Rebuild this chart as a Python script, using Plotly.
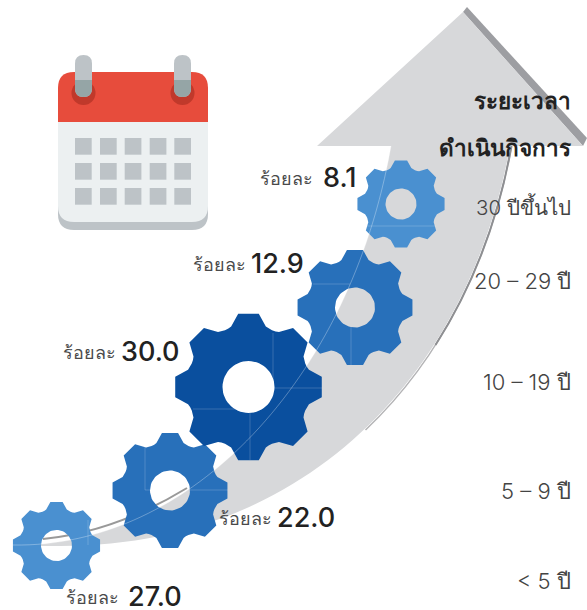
import numpy as np
import plotly.graph_objects as go

# business age groups and their share (percent), bottom gear to top gear
categories = ["< 5 ปี", "5 – 9 ปี", "10 – 19 ปี", "20 – 29 ปี", "30 ปีขึ้นไป"]
shares = [27.0, 22.0, 30.0, 12.9, 8.1]
header = ["ระยะเวลา", "ดำเนินกิจการ"]
share_word = "ร้อยละ"

# page layout, in screen pixels
gear_x = [56.5, 170, 248.5, 355, 401]
gear_y = [545.5, 490.5, 387, 307.5, 204]
gear_r = [44, 58, 74, 58, 44]
hole_r = [15.5, 20, 26, 20, 15.5]
gear_color = ["#4a90d0", "#2870ba", "#0a4f9e", "#2870ba", "#4a90d0"]
cat_y = [581, 491, 382, 281, 206]
cat_size = [22, 22, 22, 22, 20.5]
word_right = [120.5, 273.5, 117.5, 247.5, 314.5]
num_right = [184, 337, 182, 306, 358]
label_y = [597, 518, 352, 264, 178]

FONT = "Inter, Lato, 'Noto Sans', 'DejaVu Sans', sans-serif"


def gear_outline(cx, cy, r, hole):
    xs, ys = [], []
    for i in range(8):
        a0 = i * 45.0
        for da, k in [(-8, 1.0), (8, 1.0), (16, 0.85), (19, 0.835), (22.5, 0.83), (26, 0.835), (29, 0.85)]:
            a = np.radians(a0 + da)
            xs.append(cx + r * k * np.sin(a))
            ys.append(cy - r * k * np.cos(a))
    xs.append(xs[0])
    ys.append(ys[0])
    xs.append(None)
    ys.append(None)
    # hole runs the other way round
    t = np.radians(np.linspace(360, 0, 61))
    xs += list(cx + hole * np.sin(t))
    ys += list(cy - hole * np.cos(t))
    return xs, ys


def round_rect(x0, y0, x1, y1, r):
    return (
        f"M{x0+r},{y0} L{x1-r},{y0} Q{x1},{y0} {x1},{y0+r} L{x1},{y1-r} Q{x1},{y1} {x1-r},{y1} "
        f"L{x0+r},{y1} Q{x0},{y1} {x0},{y1-r} L{x0},{y0+r} Q{x0},{y0} {x0+r},{y0} Z"
    )


def shape(path, fill=None, line=None, width=0, layer="below"):
    return dict(
        type="path", path=path, fillcolor=fill or "rgba(0,0,0,0)", layer=layer,
        line=dict(color=line or "rgba(0,0,0,0)", width=width),
    )


fig = go.Figure()

shapes = []
# arrow
shapes.append(shape("M463,12 L467,7 L587,138 L583,146 Z", "#9d9ea2"))
shapes.append(shape("M511.5,146 C491.5,258 441.5,358 365.5,430", None, "#b4b4b6", 1.5))
shapes.append(shape("M511.5,146 C498.5,218.8 472.8,286.5 435.5,345", None, "#8e8f92", 2))
shapes.append(shape(
    "M317,146 L463,12 L583,146 L510,146 C470,370 310,546 60,546 L13,546 L13,545 "
    "C190,548 350,380 391,146 Z", "#d7d8da"))
shapes.append(shape("M187,488 Q115,532 43,539", None, "#999999", 2))

# calendar
shapes.append(shape(round_rect(58, 90, 208, 230, 16), "#bdc3c7"))
shapes.append(shape(round_rect(58, 90, 208, 222, 16), "#ecf0f1"))
shapes.append(shape("M58,122 L58,88 Q58,72 74,72 L192,72 Q208,72 208,88 L208,122 Z", "#e74c3c"))
for rx in [83.5, 182.5]:
    shapes.append(dict(type="circle", x0=rx - 12, x1=rx + 12, y0=81, y1=105, fillcolor="#c0392b",
                       line=dict(width=0), layer="below"))
    shapes.append(shape(round_rect(rx - 8.5, 55, rx + 8.5, 97, 8.5), "#bdc3c7"))
    shapes.append(shape(
        f"M{rx-8.5},80 L{rx+8.5},80 L{rx+8.5},88.5 Q{rx+8.5},97 {rx},97 Q{rx-8.5},97 {rx-8.5},88.5 Z",
        "#95a5a6"))
for cell_x in [75, 100, 124.7, 149.7, 174.3]:
    for cell_y in [138, 163, 188]:
        shapes.append(dict(type="rect", x0=cell_x, x1=cell_x + 16.7, y0=cell_y, y1=cell_y + 16.7,
                           fillcolor="#bdc3c7", line=dict(width=0), layer="below"))

# faint seams left in the gears
seams = [
    (273, 333, 273, 388), (274, 388, 322, 388), (193, 409, 250, 409), (250, 409, 250, 460),
    (145, 445, 145, 490), (145, 490, 150, 490), (189, 490, 228, 490), (88, 520, 88, 545),
    (313, 284, 350, 284), (366, 226, 436, 226), (351, 327, 351, 365),
]
for x0, y0, x1, y1 in seams:
    shapes.append(dict(type="line", x0=x0, y0=y0, x1=x1, y1=y1, layer="above",
                       line=dict(color="rgba(255,255,255,0.18)", width=1)))
shapes.append(shape("M391,146 C350,380 190,548 13,545", None, "rgba(255,255,255,0.3)", 1, "above"))

for i, cat in enumerate(categories):
    xs, ys = gear_outline(gear_x[i], gear_y[i], gear_r[i], hole_r[i])
    fig.add_trace(go.Scatter(
        x=xs, y=ys, mode="lines", fill="toself", fillcolor=gear_color[i],
        line=dict(width=0), name=cat, hoverinfo="name",
    ))

notes = []


def note(x, y, text, size, color, weight=400, **kw):
    notes.append(dict(
        x=x, y=y, text=text, showarrow=False, xanchor="right", yanchor="middle",
        font=dict(family=FONT, size=size, color=color, weight=weight), **kw,
    ))


for i, cat in enumerate(categories):
    note(573, cat_y[i], cat, cat_size[i], "#444444", 300)
    note(word_right[i], label_y[i], share_word, 18, "#4a4a4a", 300)
    note(num_right[i], label_y[i] - 1, f"{shares[i]:.1f}", 27, "#222222", 500, height=26)
note(573, 100, header[0], 22.5, "#222222", 700)
note(573, 147, header[1], 22.5, "#222222", 700)

fig.update_layout(
    width=587, height=610,
    margin=dict(l=0, r=0, t=0, b=0),
    paper_bgcolor="white", plot_bgcolor="white",
    showlegend=False,
    xaxis=dict(range=[0, 587], visible=False, fixedrange=True),
    yaxis=dict(range=[610, 0], visible=False, fixedrange=True),
    shapes=shapes,
    annotations=notes,
)

fig.write_html("out.html", config={"displayModeBar": False}, post_script="document.body.style.margin = '0';")
